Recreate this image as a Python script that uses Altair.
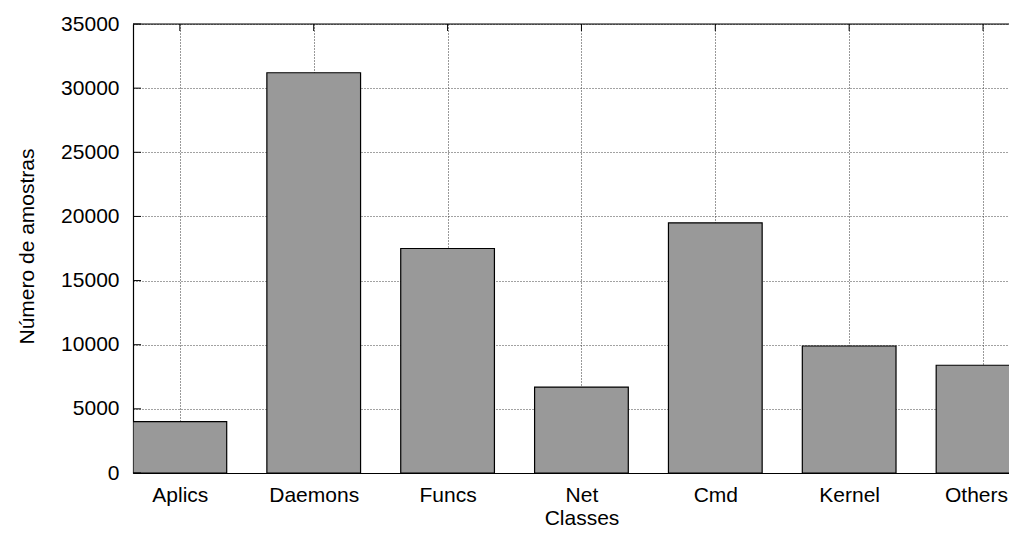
import altair as alt
import pandas as pd

categories = ["Aplics", "Daemons", "Funcs", "Net", "Cmd", "Kernel", "Others"]
samples = [4000, 31200, 17500, 6700, 19500, 9900, 8400]
y_ticks = [0, 5000, 10000, 15000, 20000, 25000, 30000, 35000]

W, H = 876, 449
HALF = 0.35
X_DOMAIN = [-0.35, 6.194]
FONT = "Liberation Sans"
FS = 21

df = pd.DataFrame({"idx": list(range(len(categories))), "cat": categories, "n": samples})
df["x0"] = df["idx"] - HALF
df["x1"] = df["idx"] + HALF
df["base"] = 0
yt = pd.DataFrame({"v": y_ticks})
one = pd.DataFrame({"a": [0]})

label_expr = "[" + ",".join(f"'{c}'" for c in categories) + "][datum.value]"

xscale = alt.Scale(domain=X_DOMAIN, nice=False, zero=False)
yscale = alt.Scale(domain=[0, 35000], nice=False)

xaxis = alt.Axis(
    values=list(range(len(categories))), labelExpr=label_expr,
    grid=True, gridDash=[1, 2], gridColor="#333", gridWidth=1,
    ticks=False, domain=True, domainColor="#000", domainWidth=1.2,
    labelFont=FONT, labelFontSize=FS, labelColor="#000", labelPadding=11,
    labelOffset={"condition": {"test": "datum.value == 6", "value": -7}, "value": 0},
    title="Classes", titleFont=FONT, titleFontSize=FS, titleFontWeight="normal",
    titleColor="#000", titleX=448.5, titleY=51, titleBaseline="alphabetic",
    titleAlign="center",
)
yaxis = alt.Axis(
    values=y_ticks, format="d",
    grid=True, gridDash=[1, 2], gridColor="#444", gridWidth=1,
    ticks=False, domain=True, domainColor="#000", domainWidth=1.2,
    labelFont=FONT, labelFontSize=FS, labelColor="#000", labelPadding=14,
    title="Número de amostras", titleFont=FONT, titleFontSize=FS,
    titleFontWeight="normal", titleColor="#000", titleX=-100, titleY=222,
    titleBaseline="alphabetic", titleAlign="center", titleAngle=270,
)

bars = alt.Chart(df).mark_rect(
    color="#999999", stroke="#000", strokeWidth=1.2, clip=True
).encode(
    x=alt.X("x0:Q", scale=xscale, axis=xaxis),
    x2="x1:Q",
    y=alt.Y("n:Q", scale=yscale, axis=yaxis),
    y2="base:Q",
)

top_rule = alt.Chart(one).mark_rule(color="#000", strokeWidth=1.2).encode(
    x=alt.value(0), x2=alt.value(W), y=alt.value(0)
)

ytick_marks = alt.Chart(yt).mark_rule(color="#000", strokeWidth=1).encode(
    y=alt.Y("v:Q", scale=yscale),
    x=alt.value(0), x2=alt.value(8),
)

xtick_top = alt.Chart(df).mark_rule(color="#000", strokeWidth=1).encode(
    x=alt.X("idx:Q", scale=xscale),
    y=alt.value(0), y2=alt.value(7),
)

chart = alt.layer(bars, ytick_marks, xtick_top, top_rule).properties(
    width=W, height=H,
    autosize=alt.AutoSizeParams(type="none"),
    padding={"left": 125, "top": 16, "right": 0, "bottom": 55},
).configure_view(strokeWidth=0).configure(background="white")

chart.save("out.html", embed_options={"renderer": "svg", "actions": False})
